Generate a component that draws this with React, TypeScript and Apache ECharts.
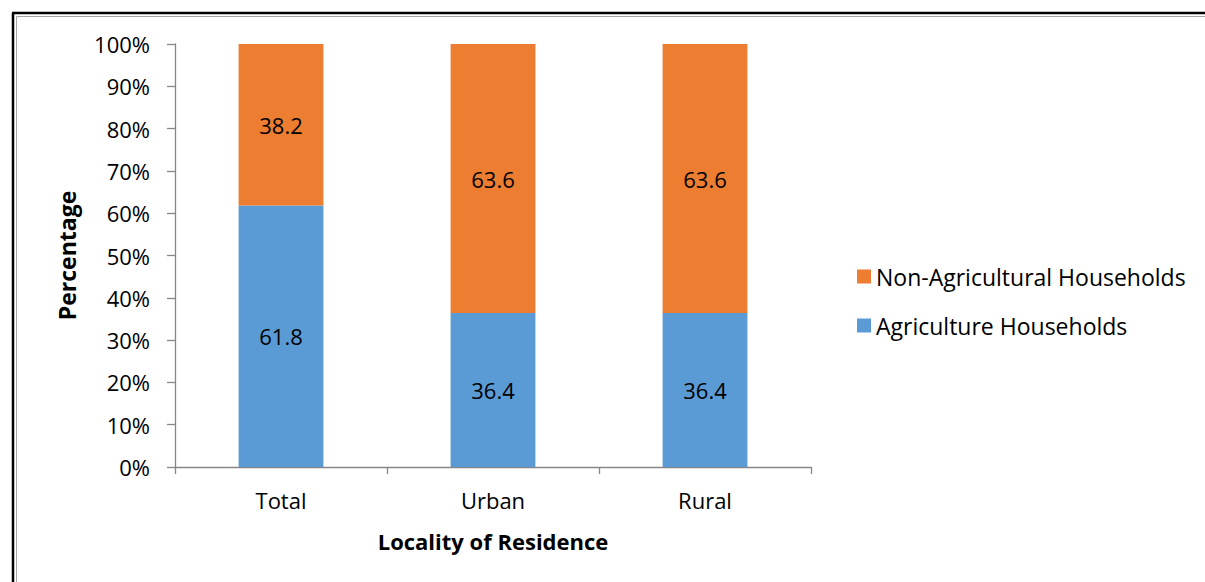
import React, { useEffect, useRef } from "react";
import * as echarts from "echarts";

const categories = ["Total", "Urban", "Rural"];
const agriculture = [61.8, 36.4, 36.4];
const nonAgricultural = [38.2, 63.6, 63.6];
const yTicks = [0, 10, 20, 30, 40, 50, 60, 70, 80, 90, 100];

const FONT = "'Open Sans', sans-serif";
const FS = 22;
const AXIS_GRAY = "#868686";

export default function App() {
  const ref = useRef<HTMLDivElement>(null);

  useEffect(() => {
    document.body.style.margin = "0";
    const chart = echarts.init(ref.current!, null, { renderer: "svg" });
    const W = 1205;
    const H = 582;
    chart.setOption({
      animation: false,
      backgroundColor: "#ffffff",
      textStyle: { fontFamily: FONT },
      grid: { left: 175, right: W - 811, top: 44, bottom: H - 467, containLabel: false },
      legend: {
        orient: "vertical",
        left: 852,
        top: 260,
        itemWidth: 14,
        itemHeight: 14,
        itemGap: 26,
        icon: "rect",
        textStyle: { fontFamily: FONT, fontSize: 23, color: "#000" },
        data: ["Non-Agricultural Households", "Agriculture Households"],
      },
      xAxis: {
        type: "category",
        data: categories,
        name: "Locality of Residence",
        nameLocation: "middle",
        nameGap: 63,
        nameTextStyle: { fontFamily: FONT, fontSize: FS, fontWeight: "bold", color: "#000" },
        axisLine: { lineStyle: { color: AXIS_GRAY, width: 1.3 } },
        axisTick: { show: true, length: 7, lineStyle: { color: AXIS_GRAY, width: 1.3 } },
        axisLabel: { fontFamily: FONT, fontSize: FS, color: "#000", margin: 22 },
      },
      yAxis: {
        type: "value",
        min: 0,
        max: 100,
        interval: 10,
        name: "Percentage",
        nameLocation: "middle",
        nameGap: 97,
        nameRotate: 90,
        nameTextStyle: { fontFamily: FONT, fontSize: 23, fontWeight: "bold", color: "#000" },
        splitLine: { show: false },
        axisLine: { show: true, lineStyle: { color: AXIS_GRAY, width: 1.3 } },
        axisTick: { show: true, length: 8, inside: false, lineStyle: { color: AXIS_GRAY, width: 1.3 } },
        axisLabel: {
          fontFamily: FONT,
          fontSize: FS,
          color: "#000",
          margin: 25,
          formatter: (v: number) => (yTicks.includes(v) ? v + "%" : ""),
        },
      },
      series: [
        {
          name: "Agriculture Households",
          type: "bar",
          stack: "total",
          barWidth: "40%",
          data: agriculture,
          itemStyle: { color: "#5B9BD5" },
          label: { show: true, position: "inside", fontFamily: FONT, fontSize: FS, color: "#000", formatter: (p: any) => p.value.toFixed(1) },
        },
        {
          name: "Non-Agricultural Households",
          type: "bar",
          stack: "total",
          barWidth: "40%",
          data: nonAgricultural,
          itemStyle: { color: "#ED7D31" },
          label: { show: true, position: "inside", fontFamily: FONT, fontSize: FS, color: "#000", formatter: (p: any) => p.value.toFixed(1) },
        },
      ],
      graphic: [
        // outer frame, clipped at the right and bottom edges
        { type: "line", shape: { x1: 13, y1: 13, x2: 13, y2: H }, style: { stroke: "#000", lineWidth: 2.5 } },
        { type: "line", shape: { x1: 12, y1: 13, x2: W, y2: 13 }, style: { stroke: "#000", lineWidth: 2.5 } },
        { type: "line", shape: { x1: 16.5, y1: 16.5, x2: 16.5, y2: H }, style: { stroke: "#a6a6a6", lineWidth: 1 } },
        { type: "line", shape: { x1: 16.5, y1: 16.5, x2: W, y2: 16.5 }, style: { stroke: "#a6a6a6", lineWidth: 1 } },
      ],
    });
    return () => chart.dispose();
  }, []);

  return <div ref={ref} style={{ width: 1205, height: 582 }} />;
}
